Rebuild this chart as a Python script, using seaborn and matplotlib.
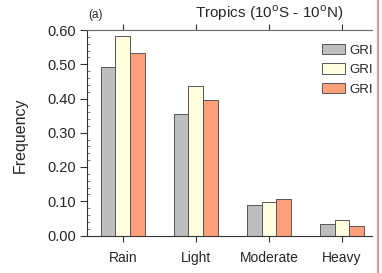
import numpy as np
import pandas as pd
import matplotlib
matplotlib.use("Agg")
import matplotlib.pyplot as plt
from matplotlib.patches import Patch
from matplotlib.lines import Line2D
from matplotlib.ticker import MultipleLocator, FormatStrFormatter
import seaborn as sns

# ---- data ----
categories = ["Rain", "Light", "Moderate", "Heavy"]
series_ids = ["s1", "s2", "s3"]
legend_labels = ["GRI", "GRI", "GRI"]
s1_vals = [0.491, 0.355, 0.090, 0.035]
s2_vals = [0.583, 0.436, 0.099, 0.044]
s3_vals = [0.533, 0.396, 0.108, 0.029]
colors = ["#bebebe", "#ffffe0", "#ffa07a"]

df = pd.DataFrame({
    "cat": categories * 3,
    "series": [s for s in series_ids for _ in categories],
    "val": s1_vals + s2_vals + s3_vals,
})

sns.set_style("ticks")
plt.rcParams["font.family"] = ["Liberation Sans", "DejaVu Sans"]

W, H = 382, 273
fig = plt.figure(figsize=(W / 100, H / 100), dpi=100)
ax = fig.add_axes([87 / W, 1 - 235.5 / H, (372 - 87) / W, (235.5 - 30) / H])

sns.barplot(data=df, x="cat", y="val", hue="series", order=categories,
            hue_order=series_ids, palette=colors, width=0.61, gap=0,
            edgecolor="#555555", linewidth=0.7, saturation=1, ax=ax,
            legend=False)

ax.set_xlim(-0.49, 3.41)
ax.set_ylim(0, 0.60)
ax.yaxis.set_major_locator(MultipleLocator(0.10))
ax.yaxis.set_minor_locator(MultipleLocator(0.02))
ax.yaxis.set_major_formatter(FormatStrFormatter("%.2f"))

for side in ["left", "bottom", "top"]:
    ax.spines[side].set_visible(True)
    ax.spines[side].set_color("#333333")
    ax.spines[side].set_linewidth(0.8)
ax.spines["top"].set_color("#666666")
ax.spines["right"].set_visible(False)

ax.tick_params(axis="y", which="major", direction="out", length=5,
               width=0.8, color="#333333", labelsize=10.5, pad=3)
ax.tick_params(axis="y", which="minor", direction="in", length=2.5,
               width=0.6, color="#666666")
ax.tick_params(axis="x", which="major", direction="out", length=4.5,
               width=0.8, color="#333333", labelsize=10, pad=7,
               top=True, labeltop=False)

ax.set_xlabel("")
ax.set_ylabel("")
fig.text(20 / W, 1 - 135 / H, "Frequency", rotation=90, fontsize=11.5,
         ha="center", va="center")
fig.text(88 / W, 1 - 15 / H, "(a)", fontsize=8.5, ha="left", va="center")
fig.text(343 / W, 1 - 13.5 / H, r"Tropics (10$^{\mathsf{o}}$S - 10$^{\mathsf{o}}$N)",
         fontsize=11, ha="right", va="center")

handles = [Patch(facecolor=c, edgecolor="#555555", linewidth=0.7) for c in colors]
ax.legend(handles, legend_labels, loc="upper left",
          bbox_to_anchor=(322 / W, 1 - 44 / H), bbox_transform=fig.transFigure,
          frameon=False, fontsize=9.5, handlelength=1.75, handleheight=0.8,
          handletextpad=0.3, labelspacing=0.52, borderpad=0, borderaxespad=0)

# thin border line visible at the right edge of the reference crop
fig.add_artist(Line2D([378 / W, 378 / W], [0, 1], transform=fig.transFigure,
                      color="#e87878", linewidth=1.2))

fig.savefig("out.png", dpi=100)
